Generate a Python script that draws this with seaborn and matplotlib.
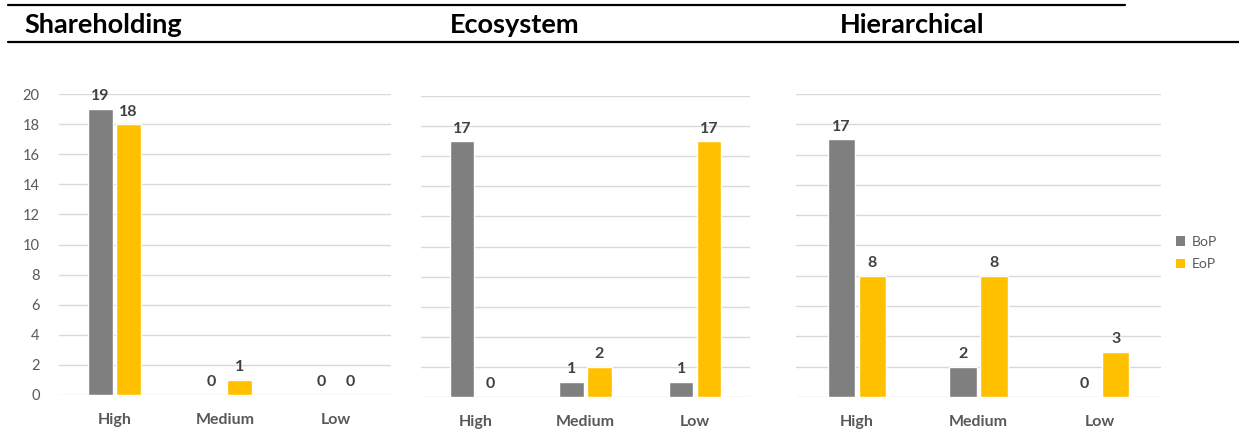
import matplotlib
matplotlib.use("Agg")
import matplotlib.pyplot as plt
import seaborn as sns
import pandas as pd
from matplotlib.lines import Line2D
from matplotlib.patches import Patch

# Levels on the x axis and the two measurement points
levels = ["High", "Medium", "Low"]
series = ["BoP", "EoP"]
panel_titles = ["Shareholding", "Ecosystem", "Hierarchical"]

shareholding_bop = [19, 0, 0]
shareholding_eop = [18, 1, 0]
ecosystem_bop = [17, 1, 1]
ecosystem_eop = [0, 2, 17]
hierarchical_bop = [17, 2, 0]
hierarchical_eop = [8, 8, 3]

y_ticks = list(range(0, 21, 2))

GREY = "#7F7F7F"
GOLD = "#FFC000"
GRID = "#D9D9D9"
LABEL = "#404040"
TICK = "#595959"

sns.set_theme(style="white")
plt.rcParams["font.family"] = ["Lato", "DejaVu Sans"]

W, H = 1239, 430
fig = plt.figure(figsize=(W / 100, H / 100), dpi=100)


def px_axes(x0, x1, ytop, ybot):
    return fig.add_axes([x0 / W, 1 - ybot / H, (x1 - x0) / W, (ybot - ytop) / H])


panels = [
    (shareholding_bop, shareholding_eop, (59, 391, 94, 395), True),
    (ecosystem_bop, ecosystem_eop, (421, 750, 96, 397), False),
    (hierarchical_bop, hierarchical_eop, (796, 1161, 94, 397), False),
]

for bop, eop, box, show_y in panels:
    ax = px_axes(*box)
    df = pd.DataFrame({
        "level": levels * 2,
        "series": [series[0]] * 3 + [series[1]] * 3,
        "value": bop + eop,
    })
    sns.barplot(data=df, x="level", y="value", hue="series", order=levels,
                hue_order=series, palette=[GREY, GOLD], width=0.51, gap=0.12,
                saturation=1, legend=False, ax=ax, zorder=3)
    for cont in ax.containers:
        ax.bar_label(cont, fmt="%d", padding=4, fontsize=11.5, fontweight="bold",
                     color=LABEL)
    ax.set_ylim(0, 20)
    ax.set_xlim(-0.5, 2.5)
    ax.set_yticks(y_ticks)
    for t in y_ticks:
        ax.axhline(t, color=GRID, lw=1, zorder=0)
    for s in ax.spines.values():
        s.set_visible(False)
    ax.set_xlabel("")
    ax.set_ylabel("")
    ax.tick_params(axis="x", length=0, pad=13, labelsize=11.5, labelcolor=TICK)
    for lbl in ax.get_xticklabels():
        lbl.set_fontweight("bold")
    if show_y:
        ax.tick_params(axis="y", length=0, pad=14, labelsize=10.5, labelcolor=TICK)
    else:
        ax.tick_params(axis="y", length=0, labelleft=False)

# Legend to the right of the last panel
handles = [Patch(facecolor=GREY, edgecolor="none"), Patch(facecolor=GOLD, edgecolor="none")]
fig.legend(handles, series, loc="center left", bbox_to_anchor=(1163 / W, 1 - 253 / H),
           frameon=False, fontsize=10, labelcolor=TICK, handlelength=0.65,
           handleheight=0.65, handletextpad=0.5, labelspacing=0.75)

# Header rules and panel titles
fig.add_artist(Line2D([8 / W, 1125 / W], [1 - 5 / H, 1 - 5 / H], color="black", lw=1.6))
fig.add_artist(Line2D([8 / W, 1.0], [1 - 42 / H, 1 - 42 / H], color="black", lw=1.6))
title_kw = dict(va="center", fontsize=19.5, fontweight="bold", color="black")
fig.text(24 / W, 1 - 25 / H, panel_titles[0], ha="left", **title_kw)
fig.text(515 / W, 1 - 25 / H, panel_titles[1], ha="center", **title_kw)
fig.text(912 / W, 1 - 25 / H, panel_titles[2], ha="center", **title_kw)

fig.savefig("out.png", dpi=100, facecolor="white")
